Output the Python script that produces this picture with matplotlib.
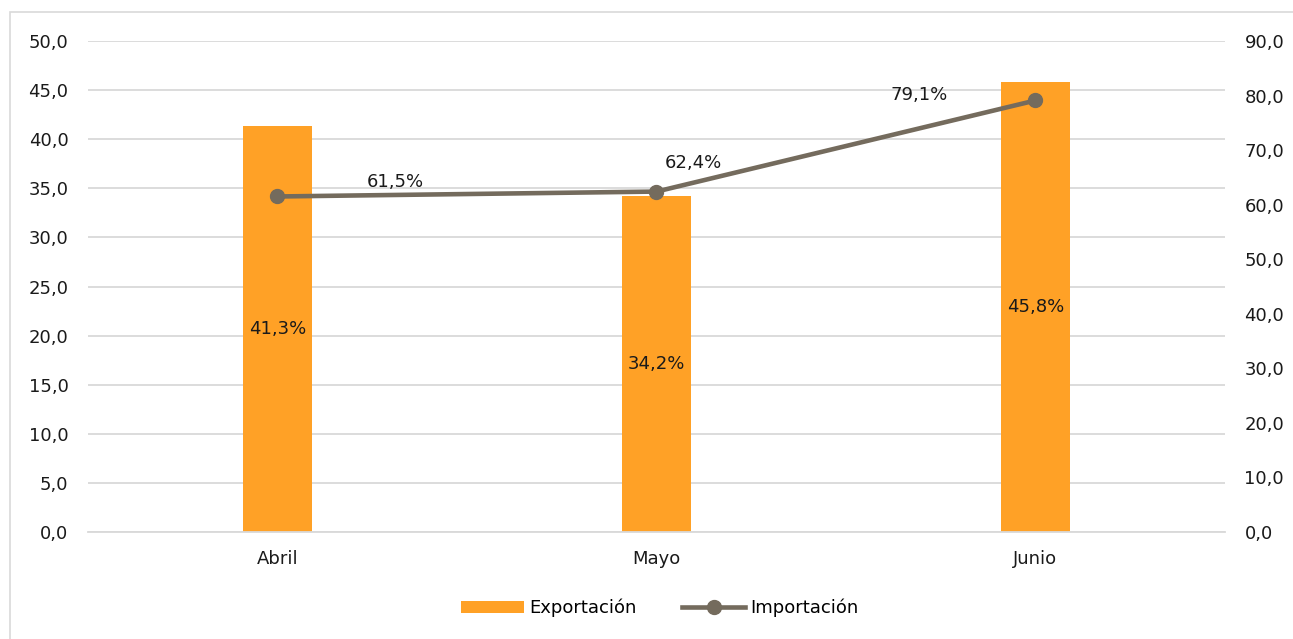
import matplotlib.pyplot as plt
from matplotlib.patches import Rectangle

# Data
meses = ['Abril', 'Mayo', 'Junio']
exportacion = [41.3, 34.2, 45.8]
importacion = [61.5, 62.4, 79.1]
export_labels = ['41,3%', '34,2%', '45,8%']
import_labels = ['61,5%', '62,4%', '79,1%']

orange = '#FFA126'
gray = '#746B5D'
grid_c = '#D9D9D9'

plt.rcParams['font.family'] = ['DejaVu Sans']
fs = 13

fig = plt.figure(figsize=(12.93, 6.39), dpi=100)
ax = fig.add_axes([88 / 1293, 1 - 532 / 639, (1225 - 88) / 1293, 491 / 639])
ax2 = ax.twinx()

# outer frame (only left and top edges are visible)
fig.patches.append(Rectangle((10 / 1293, -0.5), 1.2, 0.5 + (639 - 12) / 639, transform=fig.transFigure,
                             fill=False, edgecolor='#D9D9D9', linewidth=1.2))

x = list(range(len(meses)))
bars = ax.bar(x, exportacion, width=0.18, color=orange, label='Exportación', zorder=2)
line, = ax2.plot(x, importacion, color=gray, linewidth=3.3, marker='o', markersize=10,
                 label='Importación', zorder=3)

ax.set_xlim(-0.5, 2.5)
ax.set_ylim(0, 50)
ax2.set_ylim(0, 90)
ax.set_yticks(range(0, 51, 5))
ax2.set_yticks(range(0, 91, 10))
ax.set_yticklabels([f'{v:.1f}'.replace('.', ',') for v in range(0, 51, 5)])
ax2.set_yticklabels([f'{v:.1f}'.replace('.', ',') for v in range(0, 91, 10)])
ax.set_xticks(x)
ax.set_xticklabels(meses)

for a in (ax, ax2):
    for s in a.spines.values():
        s.set_visible(False)
    a.tick_params(length=0, labelsize=fs, colors='#1a1a1a')
ax.tick_params(axis='y', pad=14)
ax2.tick_params(axis='y', pad=14)
ax.tick_params(axis='x', pad=13)
ax.yaxis.grid(True, color=grid_c, linewidth=1.3, zorder=0)
ax.set_axisbelow(True)
ax.spines['bottom'].set_visible(True)
ax.spines['bottom'].set_color(grid_c)
ax.spines['bottom'].set_linewidth(1.3)

# bar labels at centre
for xi, v, lab in zip(x, exportacion, export_labels):
    ax.text(xi, v / 2, lab, ha='center', va='center', fontsize=fs, color='#1a1a1a', zorder=4)

# line labels
offsets = [(118, 14), (37, 29), (-116, 5)]
for xi, v, lab, off in zip(x, importacion, import_labels, offsets):
    ax2.annotate(lab, (xi, v), xytext=(off[0] * 0.72, off[1] * 0.72), textcoords='offset points',
                 ha='center', va='center', fontsize=fs, color='#1a1a1a')

fig.legend(handles=[bars, line], labels=['Exportación', 'Importación'], loc='center',
           bbox_to_anchor=(660 / 1293, 1 - 608 / 639), ncol=2, frameon=False,
           fontsize=fs, handlelength=3.5, columnspacing=2.5, handletextpad=0.3)

fig.savefig('out.png', dpi=100)
